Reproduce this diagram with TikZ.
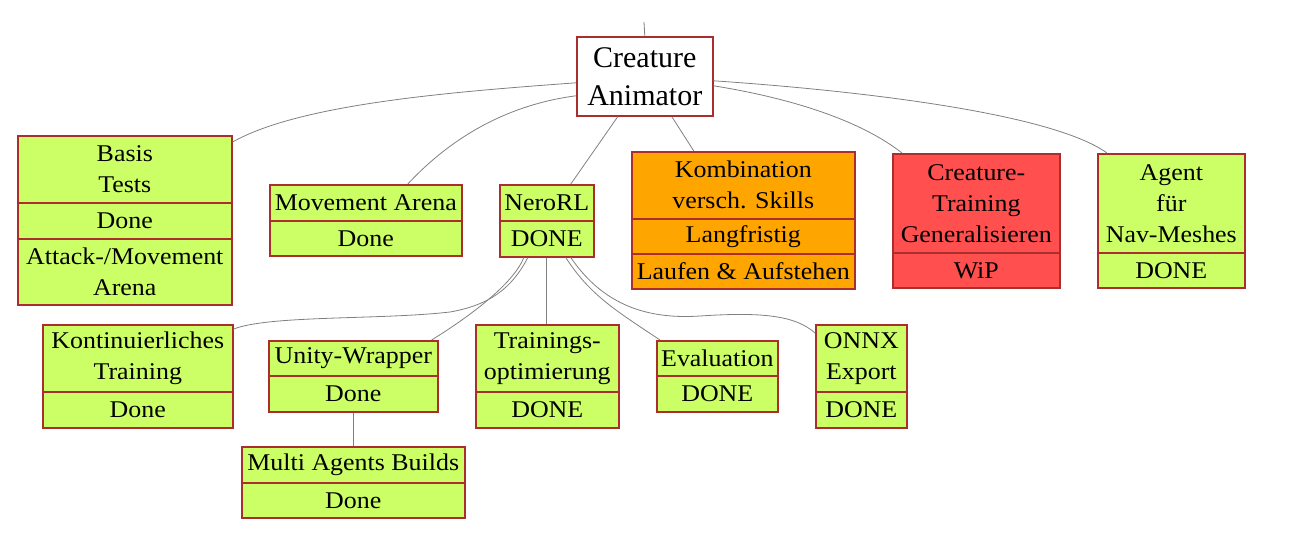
\documentclass[tikz,border=0pt]{standalone}
\usepackage{fontspec}
\setmainfont[FakeStretch=1.08]{Liberation Serif}
\newfontfamily\cafont{Liberation Serif}
\usetikzlibrary{calc}
\definecolor{grn}{HTML}{CCFF66}
\definecolor{org}{HTML}{FFA500}
\definecolor{rd}{HTML}{FF4F4F}
\definecolor{brd}{HTML}{AA2E2E}
\definecolor{edg}{HTML}{808080}
\tikzset{
  part/.style={draw=brd, line width=1.6pt, fill=grn, inner sep=0pt, anchor=north west,
    align=center, font=\fontsize{24}{31}\selectfont},
  conn/.style={draw=edg, line width=0.8pt},
}
\begin{document}
\begin{tikzpicture}[x=1pt,y=-1pt]
\useasboundingbox (0,0) rectangle (1293,539);
% root
\node[part, fill=white, minimum width=136pt, minimum height=79pt, font=\cafont\fontsize{30}{38}\selectfont] (ca) at (576,36) {Creature\\Animator};
\coordinate (topend) at (644,22);
% Basis
\node[part, minimum width=214pt, minimum height=67pt] (basis) at (17,135) {Basis\\Tests};
\node[part, minimum width=214pt, minimum height=36pt] (basisS) at (17,202) {Done};
\node[part, minimum width=214pt, minimum height=66pt] (basisT) at (17,238) {Attack-/Movement\\Arena};
% Movement
\node[part, minimum width=192pt, minimum height=36pt] (move) at (269,184) {Movement Arena};
\node[part, minimum width=192pt, minimum height=35pt] (moveS) at (269,220) {Done};
% NeroRL
\node[part, minimum width=94pt, minimum height=36pt] (nero) at (499,184) {NeroRL};
\node[part, minimum width=94pt, minimum height=36pt] (neroS) at (499,220) {DONE};
% Kombination
\node[part, fill=org, minimum width=223pt, minimum height=67pt] (komb) at (631,151) {Kombination\\versch. Skills};
\node[part, fill=org, minimum width=223pt, minimum height=35pt] (kombS) at (631,218) {Langfristig};
\node[part, fill=org, minimum width=223pt, minimum height=35pt] (kombT) at (631,253) {Laufen \& Aufstehen};
% Creature-Training
\node[part, fill=rd, minimum width=167pt, minimum height=99pt] (ct) at (892,153) {Creature-\\Training\\Generalisieren};
\node[part, fill=rd, minimum width=167pt, minimum height=35pt] (ctS) at (892,252) {WiP};
% Agent
\node[part, minimum width=147pt, minimum height=99pt] (agent) at (1097,153) {Agent\\für\\Nav-Meshes};
\node[part, minimum width=147pt, minimum height=35pt] (agentS) at (1097,252) {DONE};
% Kontinuierliches
\node[part, minimum width=190pt, minimum height=67pt] (kont) at (42,324) {Kontinuierliches\\Training};
\node[part, minimum width=190pt, minimum height=36pt] (kontS) at (42,391) {Done};
% Unity
\node[part, minimum width=169pt, minimum height=35pt] (unity) at (268,340) {Unity-Wrapper};
\node[part, minimum width=169pt, minimum height=36pt] (unityS) at (268,375) {Done};
% Trainings
\node[part, minimum width=143pt, minimum height=67pt] (train) at (475,324) {Trainings-\\optimierung};
\node[part, minimum width=143pt, minimum height=36pt] (trainS) at (475,391) {DONE};
% Evaluation
\node[part, minimum width=121pt, minimum height=35pt] (eval) at (656,340) {Evaluation};
\node[part, minimum width=121pt, minimum height=36pt] (evalS) at (656,375) {DONE};
% ONNX
\node[part, minimum width=91pt, minimum height=67pt] (onnx) at (815,324) {ONNX\\Export};
\node[part, minimum width=91pt, minimum height=36pt] (onnxS) at (815,391) {DONE};
% Multi
\node[part, minimum width=223pt, minimum height=36pt] (multi) at (241,446) {Multi Agents Builds};
\node[part, minimum width=223pt, minimum height=35pt] (multiS) at (241,482) {Done};

% connectors
\draw[conn] (topend) -- (ca.north);
\draw[conn] ($(ca.west)+(0,6.5)$) .. controls (450,92) and (300,104) .. ($(basis.north east)+(0,7)$);
\draw[conn] ($(ca.west)+(0,19.5)$) .. controls (520,103) and (460,128) .. ($(move.north)+(42,0)$);
\draw[conn] ($(ca.south)+(-27,0)$) -- ($(nero.north)+(24,0)$);
\draw[conn] ($(ca.south)+(27,0)$) -- ($(komb.north)+(-49.5,0)$);
\draw[conn] ($(ca.east)+(0,9.5)$) .. controls (790,98) and (860,120) .. ($(ct.north west)+(10,0)$);
\draw[conn] ($(ca.east)+(0,4.5)$) .. controls (850,90) and (1050,112) .. ($(agent.north west)+(10,0)$);
\draw[conn] ($(neroS.south)+(-19,0)$) .. controls (512,288) and (490,305) .. (450,312)
   .. controls (380,320) and (270,315) .. ($(kont.north east)+(0,5)$);
\draw[conn] ($(neroS.south)+(-23,0)$) .. controls (515,280) and (480,310) .. ($(unity.north east)+(-7,0)$);
\draw[conn] (neroS.south) -- (neroS.south |- train.north);
\draw[conn] ($(neroS.south)+(19,0)$) .. controls (590,295) and (615,310) .. ($(eval.north west)+(4,0)$);
\draw[conn] ($(neroS.south)+(24,0)$) .. controls (600,300) and (640,320) .. (700,316)
   .. controls (760,312) and (795,315) .. ($(onnx.north west)+(0,9)$);
\draw[conn] (unityS.south) -- (multi.north -| unityS.south);
\end{tikzpicture}
\end{document}
